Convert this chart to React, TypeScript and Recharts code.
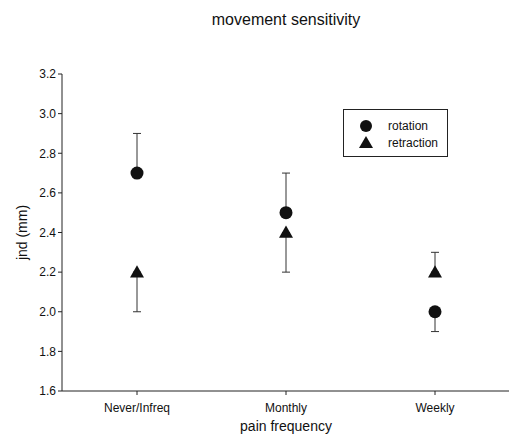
import React from "react";
import {
  ComposedChart,
  Scatter,
  XAxis,
  YAxis,
  ErrorBar,
} from "recharts";

const categories = ["Never/Infreq", "Monthly", "Weekly"];
const rotation = [2.7, 2.5, 2.0];
const rotationErr: [number, number][] = [
  [0, 0.2],
  [0, 0.2],
  [0.1, 0],
];
const retraction = [2.2, 2.4, 2.2];
const retractionErr: [number, number][] = [
  [0.2, 0],
  [0.2, 0],
  [0, 0.1],
];
const yTicks = [1.6, 1.8, 2.0, 2.2, 2.4, 2.6, 2.8, 3.0, 3.2];

const data = categories.map((cat, i) => ({
  cat,
  rot: rotation[i],
  rotErr: rotationErr[i],
  ret: retraction[i],
  retErr: retractionErr[i],
}));

const FONT = "'Liberation Sans', Arial, sans-serif";

const CircleShape = (props: any) => {
  const { cx, cy } = props;
  if (cx == null || cy == null) return null;
  return <circle cx={cx} cy={cy} r={6.5} fill="#111" />;
};

const TriangleShape = (props: any) => {
  const { cx, cy } = props;
  if (cx == null || cy == null) return null;
  const s = 7;
  return (
    <polygon
      points={`${cx},${cy - s} ${cx - s},${cy + s * 0.75} ${cx + s},${cy + s * 0.75}`}
      fill="#111"
    />
  );
};

const LegendBox = () => (
  <div
    style={{
      position: "absolute",
      left: 335,
      top: 101,
      width: 103,
      height: 46,
      border: "1px solid #222",
      background: "#fff",
    }}
  >
    <svg width={103} height={46} style={{ position: "absolute", left: 0, top: 0 }}>
      <circle cx={22} cy={16} r={6} fill="#111" />
      <polygon points="22,26 15,38 29,38" fill="#111" />
      <text x={44} y={20} fontFamily={FONT} fontSize={12} fill="#111">
        rotation
      </text>
      <text x={44} y={37} fontFamily={FONT} fontSize={12} fill="#111">
        retraction
      </text>
    </svg>
  </div>
);

export default function App() {
  return (
    <div style={{ position: "relative", width: 509, height: 432, background: "#fff" }}>
      <div
        style={{
          position: "absolute",
          left: 54,
          width: 448,
          top: 3,
          textAlign: "center",
          fontFamily: FONT,
          fontSize: 16,
          color: "#111",
        }}
      >
        movement sensitivity
      </div>
      <ComposedChart
        width={509}
        height={432}
        data={data}
        margin={{ top: 66, right: 7, bottom: 19, left: 0 }}
      >
        <XAxis
          dataKey="cat"
          type="category"
          padding={{ left: 75, right: 75 }}
          tickLine={{ stroke: "#222" }}
          tickSize={4}
          tickMargin={8}
          axisLine={{ stroke: "#222" }}
          tick={{ fill: "#111", fontFamily: FONT, fontSize: 12 }}
          height={30}
          label={{
            value: "pain frequency",
            position: "insideBottom",
            offset: -10,
            fill: "#111",
            fontFamily: FONT,
            fontSize: 14,
          }}
        />
        <XAxis
          xAxisId="top"
          dataKey="cat"
          orientation="top"
          tick={false}
          tickLine={false}
          height={0}
          axisLine={{ stroke: "#222" }}
        />
        <YAxis
          type="number"
          domain={[1.6, 3.2]}
          ticks={yTicks}
          tickFormatter={(v: number) => v.toFixed(1)}
          tickLine={{ stroke: "#222" }}
          tickSize={4}
          axisLine={{ stroke: "#222" }}
          tick={{ fill: "#111", fontFamily: FONT, fontSize: 12 }}
          width={54}
          label={{
            value: "jnd (mm)",
            angle: -90,
            position: "insideLeft",
            offset: 14,
            style: { textAnchor: "middle" },
            fill: "#111",
            fontFamily: FONT,
            fontSize: 14,
          }}
        />
        <YAxis
          yAxisId="right"
          orientation="right"
          type="number"
          domain={[1.6, 3.2]}
          tick={false}
          tickLine={false}
          width={0}
          axisLine={{ stroke: "#222" }}
        />
        <Scatter
          name="rotation"
          dataKey="rot"
          fill="#111"
          shape={<CircleShape />}
          isAnimationActive={false}
        >
          <ErrorBar dataKey="rotErr" width={4} stroke="#333" strokeWidth={1} direction="y" />
        </Scatter>
        <Scatter
          name="retraction"
          dataKey="ret"
          fill="#111"
          shape={<TriangleShape />}
          isAnimationActive={false}
        >
          <ErrorBar dataKey="retErr" width={4} stroke="#333" strokeWidth={1} direction="y" />
        </Scatter>
      </ComposedChart>
      <LegendBox />
    </div>
  );
}
